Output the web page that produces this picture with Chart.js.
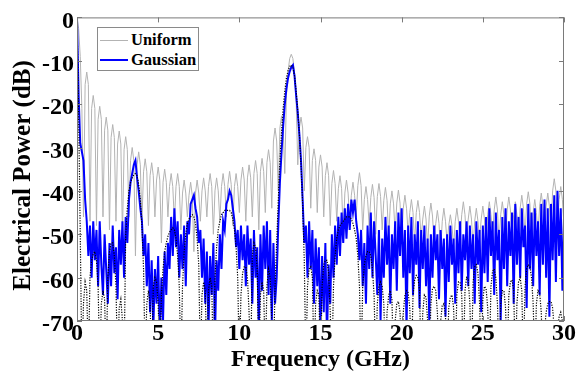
<!DOCTYPE html>
<html>
<head>
<meta charset="utf-8">
<script src="https://cdn.jsdelivr.net/npm/chart.js@4.4.0/dist/chart.umd.min.js"></script>
<style>
  body { margin: 0; background: #fff; }
  #wrap { position: relative; width: 580px; height: 374px; }
  #legend {
    position: absolute; left: 97px; top: 27px; width: 100px; height: 42px;
    border: 1px solid #8a8a8a; background: #fff;
    font: bold 16.5px "Liberation Serif", "Times New Roman", serif; color: #000;
  }
  #legend .row { position: absolute; left: 2px; height: 20px; display: flex; align-items: center; white-space: nowrap; }
  #legend .swatch { width: 28px; margin-right: 3px; }
</style>
</head>
<body>
<div id="wrap">
  <canvas id="spectrumChart"></canvas>
  <div id="legend">
    <div class="row" style="top:2px"><span class="swatch" style="border-top:1px solid #b3b3b3"></span>Uniform</div>
    <div class="row" style="top:22px"><span class="swatch" style="border-top:2px solid #0000ff"></span>Gaussian</div>
  </div>
</div>
<script>
// Electrical power spectrum (dB)

var xTicks = [0, 5, 10, 15, 20, 25, 30];
var yTicks = [0, -10, -20, -30, -40, -50, -60, -70];

// frequency grid (GHz)
var freq = [
  0, 0.1, 0.2, 0.3, 0.4, 0.5, 0.6, 0.7, 0.8, 0.9,
  1, 1.1, 1.2, 1.3, 1.4, 1.5, 1.6, 1.7, 1.8, 1.9,
  2, 2.1, 2.2, 2.3, 2.4, 2.5, 2.6, 2.7, 2.8, 2.9,
  3, 3.1, 3.2, 3.3, 3.4, 3.5, 3.6, 3.7, 3.8, 3.9,
  4, 4.1, 4.2, 4.3, 4.4, 4.5, 4.6, 4.7, 4.8, 4.9,
  5, 5.1, 5.2, 5.3, 5.4, 5.5, 5.6, 5.7, 5.8, 5.9,
  6, 6.1, 6.2, 6.3, 6.4, 6.5, 6.6, 6.7, 6.8, 6.9,
  7, 7.1, 7.2, 7.3, 7.4, 7.5, 7.6, 7.7, 7.8, 7.9,
  8, 8.1, 8.2, 8.3, 8.4, 8.5, 8.6, 8.7, 8.8, 8.9,
  9, 9.1, 9.2, 9.3, 9.4, 9.5, 9.6, 9.7, 9.8, 9.9,
  10, 10.1, 10.2, 10.3, 10.4, 10.5, 10.6, 10.7, 10.8, 10.9,
  11, 11.1, 11.2, 11.3, 11.4, 11.5, 11.6, 11.7, 11.8, 11.9,
  12, 12.1, 12.2, 12.3, 12.4, 12.5, 12.6, 12.7, 12.8, 12.9,
  13, 13.1, 13.2, 13.3, 13.4, 13.5, 13.6, 13.7, 13.8, 13.9,
  14, 14.1, 14.2, 14.3, 14.4, 14.5, 14.6, 14.7, 14.8, 14.9,
  15, 15.1, 15.2, 15.3, 15.4, 15.5, 15.6, 15.7, 15.8, 15.9,
  16, 16.1, 16.2, 16.3, 16.4, 16.5, 16.6, 16.7, 16.8, 16.9,
  17, 17.1, 17.2, 17.3, 17.4, 17.5, 17.6, 17.7, 17.8, 17.9,
  18, 18.1, 18.2, 18.3, 18.4, 18.5, 18.6, 18.7, 18.8, 18.9,
  19, 19.1, 19.2, 19.3, 19.4, 19.5, 19.6, 19.7, 19.8, 19.9,
  20, 20.1, 20.2, 20.3, 20.4, 20.5, 20.6, 20.7, 20.8, 20.9,
  21, 21.1, 21.2, 21.3, 21.4, 21.5, 21.6, 21.7, 21.8, 21.9,
  22, 22.1, 22.2, 22.3, 22.4, 22.5, 22.6, 22.7, 22.8, 22.9,
  23, 23.1, 23.2, 23.3, 23.4, 23.5, 23.6, 23.7, 23.8, 23.9,
  24, 24.1, 24.2, 24.3, 24.4, 24.5, 24.6, 24.7, 24.8, 24.9,
  25, 25.1, 25.2, 25.3, 25.4, 25.5, 25.6, 25.7, 25.8, 25.9,
  26, 26.1, 26.2, 26.3, 26.4, 26.5, 26.6, 26.7, 26.8, 26.9,
  27, 27.1, 27.2, 27.3, 27.4, 27.5, 27.6, 27.7, 27.8, 27.9,
  28, 28.1, 28.2, 28.3, 28.4, 28.5, 28.6, 28.7, 28.8, 28.9,
  29, 29.1, 29.2, 29.3, 29.4, 29.5, 29.6, 29.7, 29.8, 29.9,
  30
];

// Uniform (gray)
var uniform = [
  0, -2.5, -9, -21, -46, -15.5, -12.6, -15.5, -47, -21,
  -18, -21, -48, -23.5, -20.5, -23.5, -46, -26, -23, -26,
  -49, -27.7, -24.7, -27.7, -47, -29.2, -26.2, -29.2, -50, -30.5,
  -27.5, -30.5, -46, -33, -30, -33, -55, -34, -31, -34,
  -47, -35.6, -32.6, -35.6, -48, -36.5, -33.5, -36.5, -46, -37.5,
  -34.5, -37.5, -52, -38, -35, -38, -46, -39, -36, -39,
  -47, -39, -36, -39, -49, -40.5, -37.5, -40.5, -46, -41,
  -38, -41, -54, -40.5, -37.5, -40.5, -47, -40, -37, -40,
  -46, -39, -36, -39, -50, -40, -37, -40, -47, -39,
  -36, -39, -46, -38.5, -35.5, -38.5, -48, -39, -36, -39,
  -45, -37.5, -34.5, -37.5, -47, -37, -34, -37, -46, -36,
  -33, -36, -49, -35.5, -32.5, -35.5, -45, -33.5, -30.5, -33.5,
  -44, -28.5, -25.5, -28.5, -40, -25.5, -22.7, -25.5, -36, -18,
  -12.5, -9.5, -8.5, -9.5, -13, -19, -34, -25.5, -23, -25.5,
  -40, -30, -27.5, -30, -44, -33, -30.3, -33, -45, -34.5,
  -31.7, -34.5, -46, -36.5, -33.5, -36.5, -48, -38.3, -35.3, -38.3,
  -47, -39.5, -36.5, -39.5, -50, -40.5, -37.5, -40.5, -47, -41,
  -38, -41, -46, -38.8, -35.8, -38.8, -49, -42, -39, -42,
  -48, -41.5, -38.5, -41.5, -50, -41.3, -38.3, -41.3, -49, -42.2,
  -39.2, -42.2, -51, -43, -40, -43, -50, -42.8, -39.8, -42.8,
  -52, -44, -41, -44, -50, -45, -42, -45, -52, -45,
  -42.2, -45, -51, -46.5, -43.5, -46.5, -53, -45.8, -42.8, -45.8,
  -52, -47.5, -44.5, -47.5, -54, -47, -44, -47, -52, -48,
  -45.5, -48, -53, -47, -44, -47, -51, -45.5, -42.5, -45.5,
  -52, -46.5, -43.5, -46.5, -53, -47, -44, -47, -51, -46.5,
  -43.5, -46.5, -52, -45.5, -42.5, -45.5, -50, -44.4, -41.4, -44.4,
  -52, -45.5, -42.5, -45.5, -51, -44.4, -41.4, -44.4, -50, -45.5,
  -42.5, -45.5, -51, -44, -41, -44, -50, -43, -40.2, -43,
  -51, -45, -42, -45, -50, -43.5, -40.5, -43.5, -51, -43.5,
  -40.5, -43.5, -49, -40, -37.2, -40, -48, -42, -39, -42,
  -48
];

// Gaussian (blue)
var gaussian = [
  0, -18, -29, -31, -33, -42, -47, -55, -48, -60,
  -47, -56, -49, -62, -47, -57, -64, -50, -58, -66,
  -52, -62, -48, -59, -53, -65, -49, -57, -47, -60,
  -46, -52, -42, -38, -36, -34, -33, -37, -40, -44,
  -47, -55, -50, -62, -52, -68, -56, -72, -58, -66,
  -55, -74, -60, -70, -54, -64, -52, -58, -46, -55,
  -44, -53, -47, -60, -50, -58, -48, -62, -47, -50,
  -43, -42, -41, -44, -46, -52, -49, -60, -51, -66,
  -54, -72, -55, -64, -52, -74, -56, -63, -50, -58,
  -47, -49, -43, -42, -40, -41, -44, -47, -53, -49,
  -58, -48, -56, -50, -62, -48, -57, -51, -66, -49,
  -60, -53, -72, -50, -63, -48, -58, -47, -64, -49,
  -70, -52, -66, -60, -48, -38, -31, -25, -20, -16.5,
  -14, -12.5, -11.5, -11, -13.5, -18, -22, -27, -33, -42,
  -52, -48, -60, -47, -58, -49, -66, -51, -62, -53,
  -72, -55, -68, -52, -74, -57, -66, -50, -60, -48,
  -57, -46, -55, -45, -52, -44, -51, -43, -49, -42,
  -45, -42, -47, -50, -56, -49, -62, -52, -66, -48,
  -58, -45, -60, -47, -55, -64, -49, -70, -51, -60,
  -46, -57, -48, -66, -50, -58, -47, -63, -45, -55,
  -44, -60, -49, -72, -48, -59, -46, -64, -50, -57,
  -47, -67, -49, -58, -48, -62, -51, -70, -50, -60,
  -48, -56, -50, -65, -49, -58, -51, -69, -50, -61,
  -48, -57, -51, -66, -49, -59, -47, -63, -50, -56,
  -47, -62, -48, -58, -50, -66, -47, -57, -49, -68,
  -48, -59, -46, -61, -44, -55, -47, -64, -45, -56,
  -49, -70, -46, -58, -44, -62, -47, -55, -45, -66,
  -43, -57, -46, -60, -44, -53, -48, -67, -43, -58,
  -45, -62, -44, -55, -47, -64, -43, -57, -42, -60,
  -44, -69, -43, -56, -41, -61, -40, -55, -44, -63,
  -46
];

// theoretical curve (black dotted)
var theory = [
  0, -22, -50, -80, -66, -61, -63, -80, -60, -56,
  -54.5, -54, -56, -62, -80, -66, -63, -65, -80, -60,
  -54, -52, -52, -55, -62, -80, -67, -65, -70, -80,
  -50, -44, -40, -38, -37, -36.3, -36, -36.5, -38.5, -42,
  -48, -58, -80, -66, -63, -66, -80, -62, -60, -61,
  -66, -80, -64, -58, -54, -52, -50.5, -49.5, -49, -48.5,
  -49, -51, -55, -62, -80, -62, -54, -50, -47.5, -46.5,
  -46, -45.5, -46, -47.5, -51, -57, -80, -64, -61, -63,
  -80, -63, -60, -62, -80, -60, -53, -49, -47, -45.5,
  -45, -44.5, -44.5, -44.5, -44.5, -45, -46.5, -49, -53, -60,
  -80, -64, -59, -57.5, -57.5, -60, -68, -80, -55, -52,
  -53, -58, -80, -64, -61, -63, -80, -62, -58, -60,
  -70, -80, -62, -52, -42, -33, -26.5, -21, -17, -14,
  -12.3, -11.3, -11, -11.5, -13.5, -17, -21.5, -27, -34, -43,
  -56, -80, -62, -58, -57.5, -60, -80, -66, -63, -64,
  -80, -62, -57, -56, -56, -59, -68, -80, -62, -55,
  -51, -49, -48, -47.5, -47, -46.5, -46, -46, -46, -46.5,
  -47.5, -49, -51, -55, -62, -80, -62, -57, -55, -54,
  -54, -55, -58, -64, -80, -66, -62, -61, -62, -66,
  -80, -68, -64, -63, -65, -80, -70, -66, -65.5, -68,
  -80, -68, -64, -63, -63.5, -67, -80, -64, -60.5, -59.5,
  -60, -63, -80, -68, -64, -64.5, -70, -80, -66, -62.5,
  -62, -63, -68, -80, -70, -66.5, -66, -69, -80, -67,
  -64.5, -64, -67, -80, -64, -61, -61, -64, -80, -63,
  -60, -60.5, -66, -80, -61, -57.5, -57, -59, -66, -80,
  -65, -62, -62.5, -67, -80, -62, -58.5, -58, -60, -66,
  -80, -66, -63, -63, -67, -80, -64, -61, -60.5, -63,
  -80, -66, -61, -60, -63, -80, -62, -58, -57, -57.5,
  -60, -66, -80, -66, -63, -63.5, -68, -80, -72, -68,
  -66, -65.5, -65.5, -67, -72, -80, -72, -69, -68, -70,
  -80
];

function toPoints(values) {
    return freq.map(function(f, i) { return { x: f, y: values[i] }; });
}

// box around the plot with inward tick marks, matlab style
var frameBox = {
    id: 'frameBox',
    afterDraw: function(chart) {
        var ctx = chart.ctx;
        var a = chart.chartArea;
        var xs = chart.scales.x, ys = chart.scales.y;
        var len = 5;
        ctx.save();
        ctx.strokeStyle = '#7a7a7a';
        ctx.lineWidth = 1;
        ctx.strokeRect(a.left + 0.5, a.top + 0.5, a.right - a.left - 1, a.bottom - a.top - 1);
        ctx.beginPath();
        xTicks.forEach(function(v) {
            var px = Math.round(xs.getPixelForValue(v)) + 0.5;
            ctx.moveTo(px, a.bottom); ctx.lineTo(px, a.bottom - len);
            ctx.moveTo(px, a.top); ctx.lineTo(px, a.top + len);
        });
        yTicks.forEach(function(v) {
            var py = Math.round(ys.getPixelForValue(v)) + 0.5;
            ctx.moveTo(a.left, py); ctx.lineTo(a.left + len, py);
            ctx.moveTo(a.right, py); ctx.lineTo(a.right - len, py);
        });
        ctx.stroke();
        ctx.restore();
    }
};

var serif = '"Liberation Serif", "Times New Roman", serif';

var ctx = document.getElementById('spectrumChart').getContext('2d');
var chart = new Chart(ctx, {
    type: 'line',
    data: {
        datasets: [{
            label: 'Uniform',
            data: toPoints(uniform),
            borderColor: '#b3b3b3',
            borderWidth: 1,
            order: 3
        }, {
            label: 'Gaussian',
            data: toPoints(gaussian),
            borderColor: '#0000ff',
            borderWidth: 2,
            order: 2
        }, {
            label: 'Theory',
            data: toPoints(theory),
            borderColor: '#000000',
            borderWidth: 1.2,
            borderDash: [1.2, 1.4],
            order: 1
        }]
    },
    options: {
        responsive: true,
        maintainAspectRatio: false,
        animation: false,
        events: [],
        elements: {
            point: { radius: 0 },
            line: { tension: 0 }
        },
        datasets: { line: { clip: 0 } },
        layout: { padding: { top: 16, right: 16, left: 0, bottom: 0 } },
        plugins: {
            legend: { display: false },
            tooltip: { enabled: false }
        },
        scales: {
            x: {
                type: 'linear',
                min: 0,
                max: 30,
                afterBuildTicks: function(scale) {
                    scale.ticks = xTicks.map(function(v) { return { value: v }; });
                },
                afterFit: function(scale) { scale.height = 53; },
                grid: { display: false, drawTicks: false },
                border: { display: false },
                ticks: {
                    autoSkip: false,
                    maxRotation: 0,
                    padding: -2,
                    color: '#000',
                    font: { family: serif, size: 24, weight: 'bold' }
                },
                title: {
                    display: true,
                    text: 'Frequency (GHz)',
                    color: '#000',
                    padding: { top: 0, bottom: 0 },
                    font: { family: serif, size: 24, weight: 'bold' }
                }
            },
            y: {
                min: -70,
                max: 0,
                afterBuildTicks: function(scale) {
                    scale.ticks = yTicks.map(function(v) { return { value: v }; });
                },
                afterFit: function(scale) { scale.width = 77; },
                grid: { display: false, drawTicks: false },
                border: { display: false },
                ticks: {
                    padding: 3,
                    labelOffset: 4,
                    color: '#000',
                    font: { family: serif, size: 24, weight: 'bold' }
                },
                title: {
                    display: true,
                    text: 'Electrical Power (dB)  ',
                    color: '#000',
                    padding: { top: 9, bottom: 0 },
                    font: { family: serif, size: 25, weight: 'bold' }
                }
            }
        }
    },
    plugins: [frameBox]
});
</script>
</body>
</html>
